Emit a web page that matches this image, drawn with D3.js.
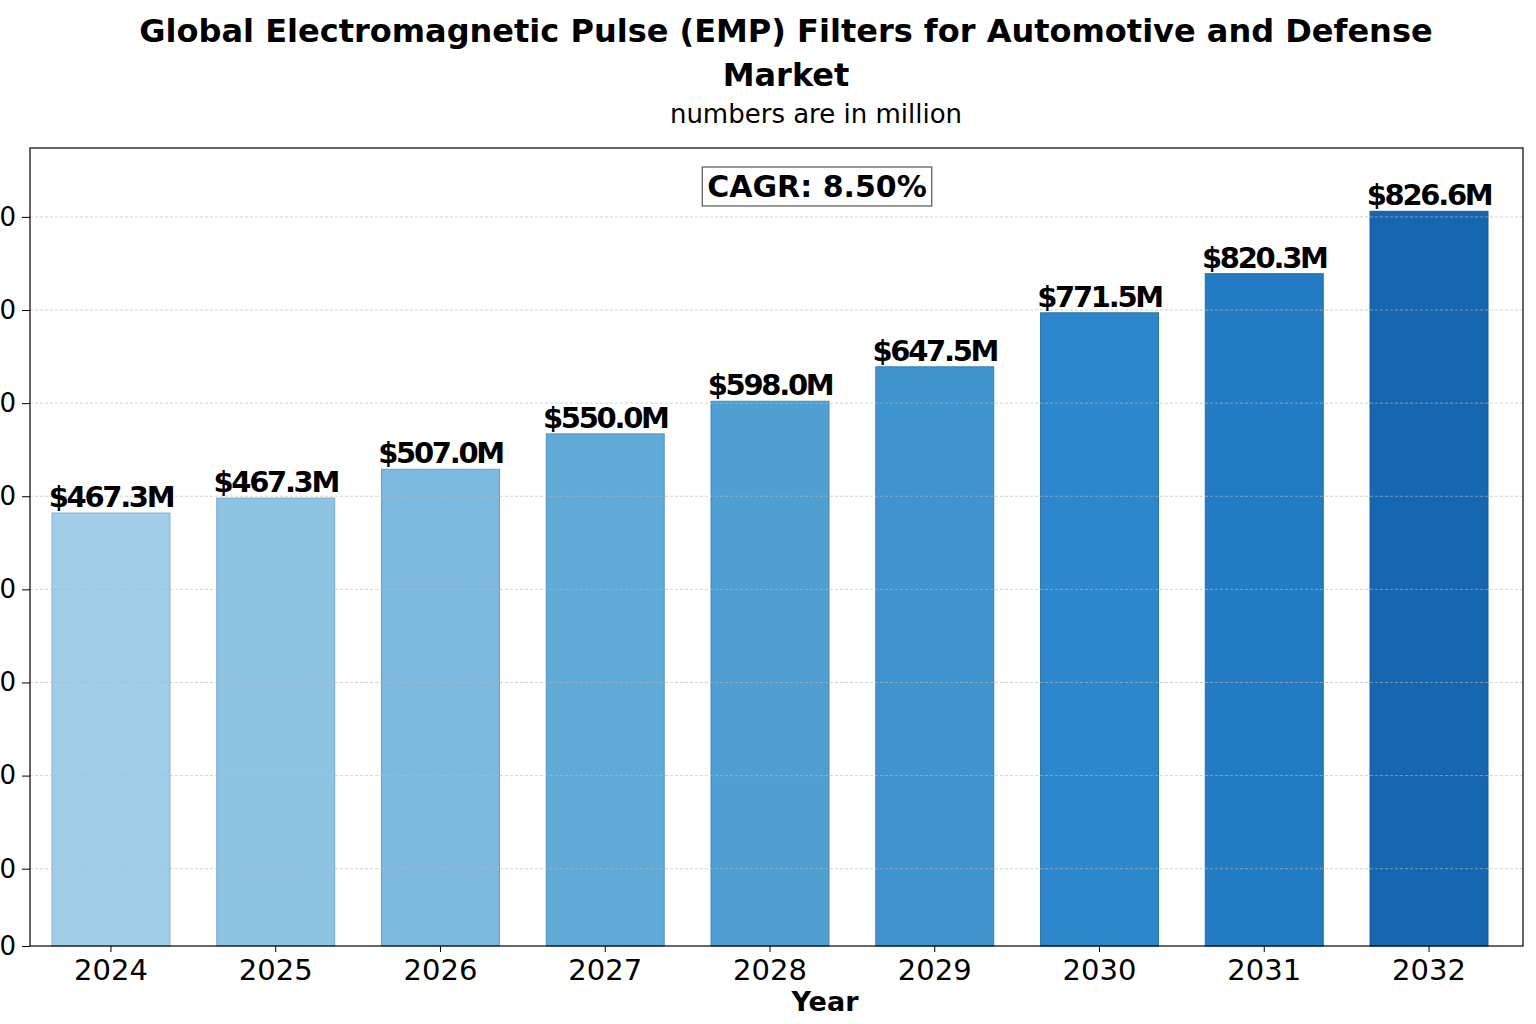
<!DOCTYPE html>
<html>
<head>
<meta charset="utf-8">
<script src="https://cdn.jsdelivr.net/npm/d3@7"></script>
<style>
  html, body { margin: 0; padding: 0; background: #fff; }
  svg { display: block; font-family: "DejaVu Sans", sans-serif; }
</style>
</head>
<body>
<svg id="chart" width="1536" height="1024"></svg>
<script>
// ---- data ----
const years = ["2024", "2025", "2026", "2027", "2028", "2029", "2030", "2031", "2032"];
const barValues = [482, 498, 529, 567, 602, 639, 697, 739, 806];
const barLabels = ["$467.3M", "$467.3M", "$507.0M", "$550.0M", "$598.0M", "$647.5M", "$771.5M", "$820.3M", "$826.6M"];
const yTicks = [17, 100, 200, 300, 400, 500, 600, 700, 800];
const yDomain = [17, 874];
const titleLines = ["Global Electromagnetic Pulse (EMP) Filters for Automotive and Defense", "Market"];
const subtitle = "numbers are in million";
const cagrText = "CAGR: 8.50%";
const xTitle = "Year";

// ---- styles ----
const barColors = ["#a0cde7", "#8dc3e3", "#7db9df", "#60aad8", "#4f9fd3", "#3f93ce", "#2e87ca", "#237cc3", "#1766b0"];

const svg = d3.select("#chart");
const plot = { left: 30, right: 1523, top: 148, bottom: 946 };

const x = d3.scaleBand().domain(years).range([plot.left, plot.right])
  .paddingInner(0.284).paddingOuter(0.173).align(0.386);
const y = d3.scaleLinear().domain(yDomain).range([plot.bottom, plot.top]);

// bars
svg.append("g").selectAll("rect").data(years).join("rect")
  .attr("x", d => x(d))
  .attr("width", x.bandwidth())
  .attr("y", (d, i) => y(barValues[i]))
  .attr("height", (d, i) => y(yDomain[0]) - y(barValues[i]))
  .attr("fill", (d, i) => barColors[i])
  .attr("stroke", (d, i) => d3.color(barColors[i]).darker(0.4))
  .attr("stroke-width", 1);

// gridlines (on top, translucent)
svg.append("g").selectAll("line").data(yTicks.slice(1)).join("line")
  .attr("x1", plot.left).attr("x2", plot.right)
  .attr("y1", d => y(d)).attr("y2", d => y(d))
  .attr("stroke", "#b8b8b8").attr("stroke-opacity", 0.8)
  .attr("stroke-width", 0.8).attr("stroke-dasharray", "3,2");

// frame
svg.append("rect")
  .attr("x", plot.left).attr("y", plot.top)
  .attr("width", plot.right - plot.left).attr("height", plot.bottom - plot.top)
  .attr("fill", "none").attr("stroke", "#000").attr("stroke-width", 1.2);

// y axis
const yAxis = svg.append("g").attr("transform", `translate(${plot.left},0)`)
  .call(d3.axisLeft(y).tickValues(yTicks).tickSize(8).tickPadding(6)
    .tickFormat(d => String(Math.round(d / 10) * 10)));
yAxis.select(".domain").remove();
yAxis.selectAll("text").attr("font-size", 26).attr("fill", "#000")
  .attr("font-family", "DejaVu Sans");
yAxis.selectAll("line").attr("stroke", "#000");

// x axis
const xAxis = svg.append("g").attr("transform", `translate(0,${plot.bottom})`)
  .call(d3.axisBottom(x).tickSize(6).tickPadding(6));
xAxis.select(".domain").remove();
xAxis.selectAll("text").attr("font-size", 29).attr("fill", "#000")
  .attr("font-family", "DejaVu Sans").attr("dy", "0.76em");
xAxis.selectAll("line").attr("stroke", "#000");

// value labels
svg.append("g").selectAll("text").data(years).join("text")
  .attr("x", d => x(d) + x.bandwidth() / 2)
  .attr("y", (d, i) => y(barValues[i]) - 6)
  .attr("text-anchor", "middle")
  .attr("font-size", 29).attr("font-weight", "bold")
  .attr("letter-spacing", -2.3)
  .text((d, i) => barLabels[i]);

// titles
svg.append("g").selectAll("text").data(titleLines).join("text")
  .attr("x", 786).attr("y", (d, i) => 42 + i * 44)
  .attr("text-anchor", "middle").attr("font-size", 32).attr("font-weight", "bold")
  .text(d => d);
svg.append("text").attr("x", 816).attr("y", 123).attr("text-anchor", "middle")
  .attr("font-size", 26).text(subtitle);

// CAGR box
const cg = svg.append("g");
const ct = cg.append("text").attr("x", 817).attr("y", 197).attr("text-anchor", "middle")
  .attr("font-size", 30).attr("font-weight", "bold").text(cagrText);
const bb = ct.node().getBBox();
cg.insert("rect", "text")
  .attr("x", bb.x - 5).attr("y", 167).attr("width", bb.width + 10).attr("height", 39)
  .attr("fill", "#fff").attr("stroke", "#555").attr("stroke-width", 1.2);

// x title
svg.append("text").attr("x", 825).attr("y", 1011).attr("text-anchor", "middle")
  .attr("font-size", 27).attr("font-weight", "bold").text(xTitle);
</script>
</body>
</html>
